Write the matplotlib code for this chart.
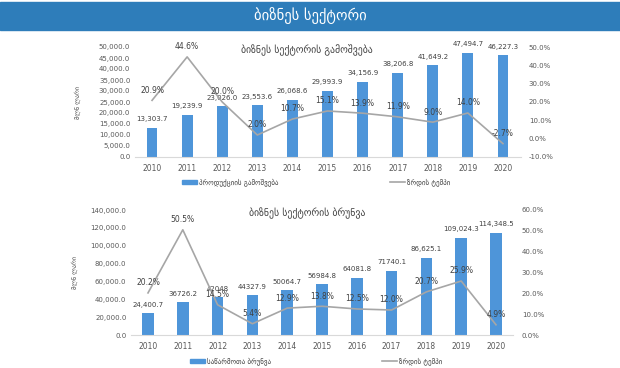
import matplotlib.pyplot as plt
from matplotlib.patches import Rectangle, Patch
from matplotlib.lines import Line2D

years = [str(y) for y in range(2010, 2021)]

# output (production), mln GEL
output_vals = [13303.7, 19239.9, 23026.0, 23553.6, 26068.6, 29993.9,
               34156.9, 38206.8, 41649.2, 47494.7, 46227.3]
output_growth = [20.9, 44.6, 20.0, 2.0, 10.7, 15.1, 13.9, 11.9, 9.0, 14.0, -2.7]

# turnover, mln GEL
turnover_vals = [24400.7, 36726.2, 42048.0, 44327.9, 50064.7, 56984.8,
                 64081.8, 71740.1, 86625.1, 109024.3, 114348.5]
turnover_labels = ["24,400.7", "36726.2", "42048", "44327.9", "50064.7", "56984.8",
                   "64081.8", "71740.1", "86,625.1", "109,024.3", "114,348.5"]
turnover_growth = [20.2, 50.5, 14.5, 5.4, 12.9, 13.8, 12.5, 12.0, 20.7, 25.9, 4.9]

BAR = "#4e95d9"
LINE = "#a6a6a6"
TXT = "#404040"
TICK = "#595959"
W, H = 620, 368

fig = plt.figure(figsize=(6.2, 3.68), dpi=100)
fig.patch.set_facecolor("white")

def px_axes(x0, x1, ytop, ybot):
    return fig.add_axes([x0 / W, 1 - ybot / H, (x1 - x0) / W, (ybot - ytop) / H])

# header banner
fig.patches.append(Rectangle((0, 1 - 30 / H), 1, 28 / H, transform=fig.transFigure,
                             color="#2e7dba", zorder=0))
fig.text(0.5, 1 - 16 / H, "ბიზნეს სექტორი", color="white", fontsize=10.5,
         ha="center", va="center")


def draw_chart(box, vals, labels, growth, ymax, yticks, pmin, pmax, pticks,
               title, title_y, ylab_x, legend_bar, legend_line, leg_y, bw):
    ax = px_axes(*box)
    x = list(range(len(years)))
    ax.bar(x, vals, width=bw, color=BAR, zorder=2)
    ax.set_xlim(-0.5, len(years) - 0.5)
    ax.set_ylim(0, ymax)
    ax.set_yticks(yticks)
    ax.set_yticklabels([f"{v:,.1f}" for v in yticks])
    ax.set_xticks(x)
    ax.set_xticklabels(years)
    for s in ["top", "right", "left"]:
        ax.spines[s].set_visible(False)
    ax.spines["bottom"].set_color("#d9d9d9")
    ax.tick_params(length=0, labelsize=5, colors=TICK, pad=3)
    ax.tick_params(axis="x", labelsize=5.5, pad=5)
    for xi, v, lab in zip(x, vals, labels):
        ax.annotate(lab, (xi, v), xytext=(0, 4), textcoords="offset points",
                    ha="center", va="bottom", fontsize=5, color=TXT)

    ax2 = ax.twinx()
    ax2.plot(x, growth, color=LINE, lw=1.2, zorder=3)
    ax2.set_ylim(pmin, pmax)
    ax2.set_yticks(pticks)
    ax2.set_yticklabels([f"{v:.1f}%" for v in pticks])
    for s in ["top", "right", "left", "bottom"]:
        ax2.spines[s].set_visible(False)
    ax2.tick_params(length=0, labelsize=5, colors=TICK, pad=6)
    for xi, g in zip(x, growth):
        ax2.annotate(f"{g:.1f}%", (xi, g), xytext=(0, 4), textcoords="offset points",
                     ha="center", va="bottom", fontsize=5.5, color=TXT)

    fig.text(307 / W, 1 - title_y / H, title, fontsize=7, color=TXT,
             ha="center", va="center")
    fig.text(ylab_x / W, 1 - (box[2] + box[3]) / 2 / H, "მლნ ლარი", fontsize=4.5,
             color=TICK, rotation=90, ha="center", va="center")

    handles = [Patch(color=BAR), Line2D([0], [0], color=LINE, lw=1.2)]
    fig.legend(handles, [legend_bar, legend_line], loc="center",
               bbox_to_anchor=(0.5 + 0.01, 1 - leg_y / H), ncol=2, frameon=False,
               fontsize=5, columnspacing=16, handlelength=2.2, handleheight=0.6,
               handletextpad=0.3, labelcolor=TXT)
    return ax


draw_chart((134.5, 520.5, 47, 157), output_vals, [f"{v:,.1f}" for v in output_vals],
           output_growth, 50000, list(range(0, 50001, 5000)), -10, 50,
           list(range(-10, 51, 10)), "ბიზნეს სექტორის გამოშვება", 50, 78,
           "პროდუქციის გამოშვება", "ზრდის ტემპი", 182, 0.31)

draw_chart((130.6, 513.4, 210, 335), turnover_vals, turnover_labels,
           turnover_growth, 140000, list(range(0, 140001, 20000)), 0, 60,
           list(range(0, 61, 10)), "ბიზნეს სექტორის ბრუნვა", 213, 75,
           "საწარმოთა ბრუნვა", "ზრდის ტემპი", 361, 0.33)

fig.savefig("out.png", dpi=100)
